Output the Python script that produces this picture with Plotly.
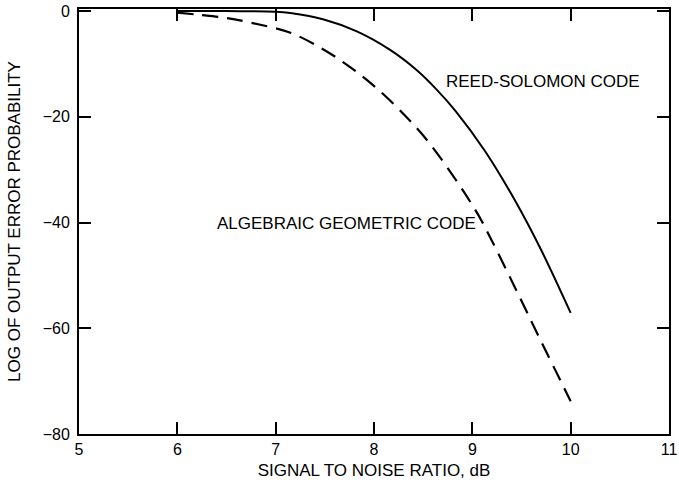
import plotly.graph_objects as go

# Data
rs_x = [6.0, 6.5, 7.0, 7.15, 7.49, 7.82, 8.16, 8.43, 8.63, 8.83, 9.13, 9.43, 9.70, 10.0]
rs_y = [0.0, 0.0, -0.1, -0.36, -1.6, -3.8, -7.3, -11.1, -14.7, -18.9, -26.5, -35.7, -45.2, -57.1]

ag_x = [6.0, 6.22, 6.5, 6.75, 7.15, 7.49, 7.75, 7.99, 8.26, 8.56, 9.03, 9.2, 9.46, 9.70, 10.0]
ag_y = [-0.3, -0.7, -1.3, -2.2, -4.1, -7.3, -10.5, -14.0, -18.7, -24.9, -37.6, -43.5, -53.3, -62.5, -73.8]

x_ticks = [5, 6, 7, 8, 9, 10, 11]
y_ticks = [-80, -60, -40, -20, 0]

FONT = "Liberation Sans, Arial, sans-serif"

fig = go.Figure()
fig.add_trace(go.Scatter(x=rs_x, y=rs_y, mode="lines", line_shape="spline",
                         line=dict(color="black", width=2, smoothing=1.0),
                         showlegend=False))
fig.add_trace(go.Scatter(x=ag_x, y=ag_y, mode="lines", line_shape="spline",
                         line=dict(color="black", width=2.2, dash="16px,9px",
                                   smoothing=1.0),
                         showlegend=False))

fig.add_annotation(x=9.72, y=-13.4, text="REED-SOLOMON CODE", showarrow=False,
                   font=dict(family=FONT, size=17, color="black"))
fig.add_annotation(x=7.72, y=-40.2, text="ALGEBRAIC GEOMETRIC CODE", showarrow=False,
                   font=dict(family=FONT, size=17, color="black"))

axis_common = dict(showgrid=False, zeroline=False, showline=True, linecolor="black",
                   linewidth=2, ticks="inside", ticklen=12, tickwidth=1.5,
                   tickcolor="black", mirror="allticks", automargin=False,
                   ticklabeloverflow="allow",
                   tickfont=dict(family=FONT, size=16, color="black"))

fig.update_xaxes(range=[5, 11], tickvals=x_ticks,
                 title=dict(text="SIGNAL TO NOISE RATIO, dB",
                            font=dict(family=FONT, size=17, color="black"),
                            standoff=7),
                 **axis_common)
fig.update_yaxes(range=[-80, 0.4], tickvals=y_ticks, ticklabelstandoff=4,
                 title=dict(text="LOG OF OUTPUT ERROR PROBABILITY",
                            font=dict(family=FONT, size=17, color="black"),
                            standoff=18),
                 **axis_common)

fig.update_layout(width=679, height=497, plot_bgcolor="white", paper_bgcolor="white",
                  margin=dict(l=79, r=10, t=9, b=63), showlegend=False)

fig.write_html("out.html", config={"displayModeBar": False},
               post_script="document.body.style.margin='0';document.body.style.overflow='hidden';")
